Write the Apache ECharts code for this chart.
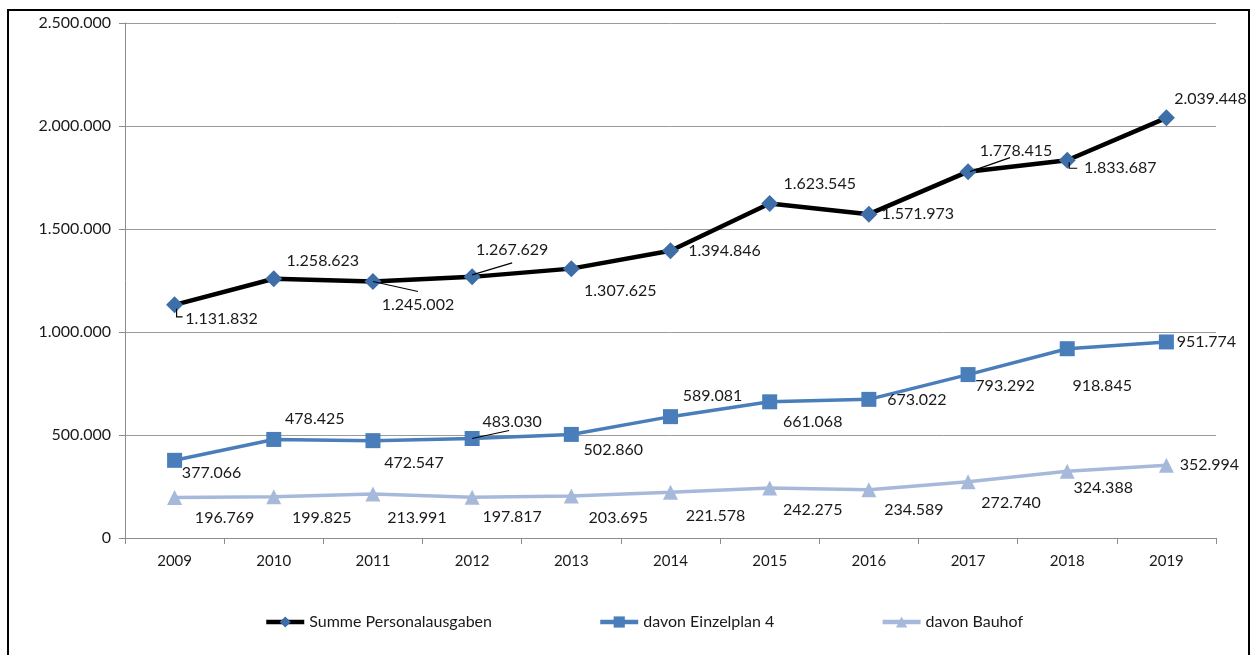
<!DOCTYPE html>
<html>
<head>
<meta charset="utf-8">
<script src="https://cdn.jsdelivr.net/npm/echarts@6/dist/echarts.min.js"></script>
<style>
  html, body { margin: 0; padding: 0; background: #fff; }
  #chart { width: 1257px; height: 655px; }
</style>
</head>
<body>
<div id="chart"></div>
<script>
// --- Data ---
const years = ['2009', '2010', '2011', '2012', '2013', '2014', '2015', '2016', '2017', '2018', '2019']
const summePersonal = [1131832, 1258623, 1245002, 1267629, 1307625, 1394846, 1623545, 1571973, 1778415, 1833687, 2039448]
const einzelplan4 = [377066, 478425, 472547, 483030, 502860, 589081, 661068, 673022, 793292, 918845, 951774]
const bauhof = [196769, 199825, 213991, 197817, 203695, 221578, 242275, 234589, 272740, 324388, 352994]

// label placement (offset of label centre from its point, px)
const summeOffsets = [[47, 14], [49, -18], [45, 23], [40, -27], [49, 22], [54, 0], [50, -20], [49, 0], [48, -21], [53, 8], [44, -19]]
const einzelOffsets = [[37, 13], [41, -21], [41, 22], [40, -17], [42, 15], [42, -21], [43, 20], [48, 0], [37, 11], [35, 37], [40, 0]]
const bauhofOffsets = [[50, 20], [48, 21], [44, 24], [40, 20], [47, 22], [45, 23], [43, 22], [45, 20], [43, 21], [36, 17], [43, 0]]

// leader lines: [seriesIndex, dataIndex, polyline relative to the point]
const leaders = [
  [0, 0, [[2, 4], [2, 12], [8, 12]]],
  [0, 2, [[0, 0], [45, 10]]],
  [0, 3, [[0, -2], [40, -14]]],
  [0, 8, [[2, 0], [42, -14]]],
  [0, 9, [[2, 2], [2, 8], [10, 8]]],
  [1, 3, [[0, 0], [37, -8]]],
]

const fontFamily = 'Lato, "Open Sans", sans-serif'
const fmt = (v) => String(v).replace(/\B(?=(\d{3})+(?!\d))/g, '.')

const buildData = (values, offsets) =>
  values.map((v, i) => ({ value: v, label: { offset: offsets[i] } }))

const baseLabel = {
  show: true,
  position: 'inside',
  color: '#1a1a1a',
  fontSize: 16,
  fontFamily,
  formatter: (p) => fmt(p.value),
}

const seriesValues = [summePersonal, einzelplan4, bauhof]

const chart = echarts.init(document.getElementById('chart'))

const option = {
  animation: false,
  backgroundColor: '#fff',
  grid: { left: 125, right: 41, top: 23, bottom: 117 },
  legend: {
    left: 259,
    top: 609,
    itemGap: 106,
    itemWidth: 38,
    itemHeight: 14,
    textStyle: { color: '#1a1a1a', fontSize: 16, fontFamily },
    lineStyle: { width: 4.5 },
    data: ['Summe Personalausgaben', 'davon Einzelplan 4', 'davon Bauhof'],
  },
  xAxis: {
    type: 'category',
    data: years,
    axisLine: { lineStyle: { color: '#8c8c8c', width: 1 } },
    axisTick: { show: true, length: 6, lineStyle: { color: '#8c8c8c' } },
    axisLabel: { color: '#1a1a1a', fontSize: 15, fontFamily, margin: 16 },
  },
  yAxis: {
    type: 'value',
    min: 0,
    max: 2500000,
    interval: 500000,
    axisLine: { show: true, lineStyle: { color: '#8c8c8c', width: 1 } },
    axisTick: { show: true, length: 6, lineStyle: { color: '#8c8c8c' } },
    axisLabel: { color: '#1a1a1a', fontSize: 16, fontFamily, margin: 14, formatter: (v) => fmt(v) },
    splitLine: { show: true, lineStyle: { color: '#9a9a9a', width: 1 } },
  },
  series: [
    {
      name: 'Summe Personalausgaben',
      type: 'line',
      data: buildData(summePersonal, summeOffsets),
      symbol: 'diamond',
      symbolSize: 17,
      itemStyle: { color: '#3d6ea8', borderWidth: 0 },
      lineStyle: { color: '#000', width: 4.5 },
      label: baseLabel,
      z: 4,
    },
    {
      name: 'davon Einzelplan 4',
      type: 'line',
      data: buildData(einzelplan4, einzelOffsets),
      symbol: 'rect',
      symbolSize: 15,
      itemStyle: { color: '#4a7ebb', borderWidth: 0 },
      lineStyle: { color: '#4a7ebb', width: 3.5 },
      label: baseLabel,
      z: 3,
    },
    {
      name: 'davon Bauhof',
      type: 'line',
      data: buildData(bauhof, bauhofOffsets),
      symbol: 'triangle',
      symbolSize: 15,
      itemStyle: { color: '#a7b9da', borderWidth: 0 },
      lineStyle: { color: '#a7b9da', width: 3.5 },
      label: baseLabel,
      z: 2,
    },
  ],
}

chart.setOption(option)

// Outer frame + leader lines (anchored on the points through the axes)
const graphics = [
  {
    type: 'rect',
    shape: { x: 8, y: 10, width: 1241, height: 660 },
    style: { fill: 'none', stroke: '#000', lineWidth: 2 },
    silent: true,
  },
]
leaders.forEach(([si, di, pts]) => {
  const [px, py] = chart.convertToPixel({ seriesIndex: si }, [di, seriesValues[si][di]])
  graphics.push({
    type: 'polyline',
    shape: { points: pts.map(([dx, dy]) => [px + dx, py + dy]) },
    style: { stroke: '#000', lineWidth: 1.2, fill: 'none' },
    z: 10,
    silent: true,
  })
})
chart.setOption({ graphic: graphics })

window.addEventListener('resize', () => chart.resize())
</script>
</body>
</html>
